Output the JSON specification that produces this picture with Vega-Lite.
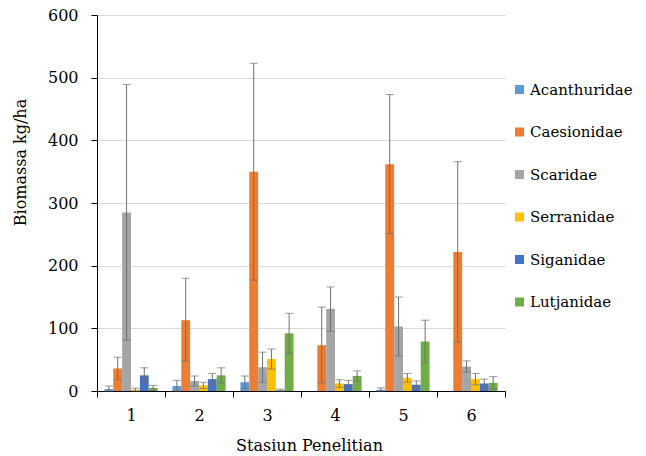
{
  "$schema": "https://vega.github.io/schema/vega-lite/v6.json",
  "width": 408,
  "height": 376,
  "autosize": {"type": "none"},
  "padding": {"left": 97, "top": 15, "right": 141, "bottom": 65},
  "background": "white",
  "config": {
    "font": "DejaVu Serif",
    "view": {"stroke": null}
  },
  "data": {
    "values": [
      {"station": "1", "family": "Acanthuridae", "mean": 3, "lo": 0, "hi": 8},
      {"station": "1", "family": "Caesionidae", "mean": 36, "lo": 18, "hi": 54},
      {"station": "1", "family": "Scaridae", "mean": 285, "lo": 81, "hi": 489},
      {"station": "1", "family": "Serranidae", "mean": 2, "lo": 0, "hi": 4.5},
      {"station": "1", "family": "Siganidae", "mean": 25, "lo": 13, "hi": 37},
      {"station": "1", "family": "Lutjanidae", "mean": 5, "lo": 1, "hi": 9},
      {"station": "2", "family": "Acanthuridae", "mean": 8, "lo": 0, "hi": 17},
      {"station": "2", "family": "Caesionidae", "mean": 113, "lo": 48, "hi": 180},
      {"station": "2", "family": "Scaridae", "mean": 16, "lo": 8, "hi": 24},
      {"station": "2", "family": "Serranidae", "mean": 9, "lo": 4, "hi": 14},
      {"station": "2", "family": "Siganidae", "mean": 19, "lo": 10, "hi": 28},
      {"station": "2", "family": "Lutjanidae", "mean": 25, "lo": 13, "hi": 37},
      {"station": "3", "family": "Acanthuridae", "mean": 14, "lo": 4, "hi": 24},
      {"station": "3", "family": "Caesionidae", "mean": 350, "lo": 177, "hi": 523},
      {"station": "3", "family": "Scaridae", "mean": 38, "lo": 14, "hi": 62},
      {"station": "3", "family": "Serranidae", "mean": 51, "lo": 35, "hi": 67},
      {"station": "3", "family": "Siganidae", "mean": 1, "lo": 0, "hi": 3},
      {"station": "3", "family": "Lutjanidae", "mean": 92, "lo": 60, "hi": 124},
      {"station": "4", "family": "Acanthuridae", "mean": 0, "lo": null, "hi": null},
      {"station": "4", "family": "Caesionidae", "mean": 73, "lo": 13, "hi": 134},
      {"station": "4", "family": "Scaridae", "mean": 131, "lo": 95, "hi": 166},
      {"station": "4", "family": "Serranidae", "mean": 12, "lo": 6, "hi": 18},
      {"station": "4", "family": "Siganidae", "mean": 11, "lo": 5, "hi": 17},
      {"station": "4", "family": "Lutjanidae", "mean": 24, "lo": 16, "hi": 32},
      {"station": "5", "family": "Acanthuridae", "mean": 2, "lo": 0, "hi": 5},
      {"station": "5", "family": "Caesionidae", "mean": 362, "lo": 251, "hi": 473},
      {"station": "5", "family": "Scaridae", "mean": 103, "lo": 56, "hi": 150},
      {"station": "5", "family": "Serranidae", "mean": 21, "lo": 14, "hi": 28},
      {"station": "5", "family": "Siganidae", "mean": 10, "lo": 4, "hi": 16},
      {"station": "5", "family": "Lutjanidae", "mean": 79, "lo": 45, "hi": 113},
      {"station": "6", "family": "Acanthuridae", "mean": 0, "lo": null, "hi": null},
      {"station": "6", "family": "Caesionidae", "mean": 222, "lo": 78, "hi": 366},
      {"station": "6", "family": "Scaridae", "mean": 39, "lo": 30, "hi": 48},
      {"station": "6", "family": "Serranidae", "mean": 19, "lo": 10, "hi": 28},
      {"station": "6", "family": "Siganidae", "mean": 12, "lo": 5, "hi": 19},
      {"station": "6", "family": "Lutjanidae", "mean": 13, "lo": 3, "hi": 23}
    ]
  },
  "encoding": {
    "x": {
      "field": "station",
      "type": "nominal",
      "scale": {"paddingInner": 0, "paddingOuter": 0},
      "title": "Stasiun Penelitian",
      "axis": {
        "labelAngle": 0,
        "tickBand": "extent",
        "tickSize": 6,
        "tickColor": "#000",
        "domainColor": "#000",
        "labelColor": "#000",
        "labelFontSize": 16,
        "labelPadding": 10,
        "titleFontSize": 16,
        "titleFontWeight": "normal",
        "titleColor": "#000",
        "titleX": 212,
        "titleY": 54,
        "titleBaseline": "middle"
      }
    },
    "xOffset": {
      "field": "family",
      "type": "nominal",
      "sort": ["Acanthuridae", "Caesionidae", "Scaridae", "Serranidae", "Siganidae", "Lutjanidae"],
      "scale": {"paddingInner": 0, "paddingOuter": 0.84}
    }
  },
  "layer": [
    {
      "mark": {"type": "bar"},
      "encoding": {
        "y": {
          "field": "mean",
          "type": "quantitative",
          "scale": {"domain": [0, 600]},
          "title": "Biomassa kg/ha",
          "axis": {
            "values": [0, 100, 200, 300, 400, 500, 600],
            "tickSize": 6,
            "tickColor": "#000",
            "domainColor": "#000",
            "gridColor": "#d9d9d9",
            "labelColor": "#000",
            "labelFontSize": 16,
            "labelPadding": 13,
            "titleFontSize": 16,
            "titleFontWeight": "normal",
            "titleColor": "#000",
            "titleAngle": -90,
            "titleX": -77,
            "titleY": 147,
            "titleAlign": "center",
            "titleBaseline": "middle"
          }
        },
        "color": {
          "field": "family",
          "type": "nominal",
          "sort": ["Acanthuridae", "Caesionidae", "Scaridae", "Serranidae", "Siganidae", "Lutjanidae"],
          "scale": {
            "domain": ["Acanthuridae", "Caesionidae", "Scaridae", "Serranidae", "Siganidae", "Lutjanidae"],
            "range": ["#5B9BD5", "#ED7D31", "#A5A5A5", "#FFC000", "#4472C4", "#70AD47"]
          },
          "legend": {
            "title": null,
            "orient": "none",
            "legendX": 415,
            "legendY": 67,
            "symbolType": "square",
            "symbolSize": 81,
            "symbolStrokeWidth": 0,
            "labelFontSize": 15,
            "labelColor": "#000",
            "labelOffset": 3,
            "rowPadding": 26.5
          }
        }
      }
    },
    {
      "mark": {"type": "rule", "color": "#707070", "strokeWidth": 1},
      "encoding": {
        "y": {"field": "lo", "type": "quantitative"},
        "y2": {"field": "hi"}
      }
    },
    {
      "mark": {"type": "tick", "color": "#707070", "size": 8, "thickness": 1},
      "encoding": {"y": {"field": "hi", "type": "quantitative"}}
    },
    {
      "mark": {"type": "tick", "color": "#707070", "size": 8, "thickness": 1},
      "encoding": {"y": {"field": "lo", "type": "quantitative"}}
    }
  ]
}
